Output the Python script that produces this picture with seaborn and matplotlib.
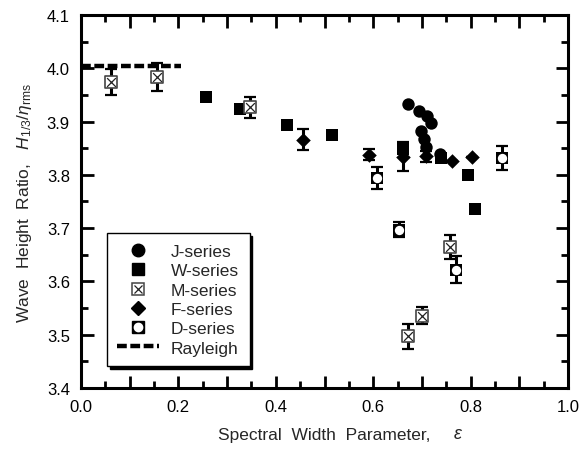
import numpy as np
import pandas as pd
import matplotlib
matplotlib.use("Agg")
import matplotlib.pyplot as plt
import seaborn as sns
from matplotlib.ticker import MultipleLocator, FuncFormatter
from matplotlib.lines import Line2D

# ---------------- data ----------------
j_eps = [0.671, 0.694, 0.711, 0.718, 0.698, 0.704, 0.708, 0.737]
j_ratio = [3.933, 3.919, 3.911, 3.897, 3.883, 3.867, 3.853, 3.839]

w_eps = [0.257, 0.326, 0.424, 0.515, 0.662, 0.739, 0.794, 0.809]
w_ratio = [3.947, 3.924, 3.894, 3.874, 3.849, 3.832, 3.800, 3.735]

m_eps = [0.061, 0.157, 0.346, 0.671, 0.701, 0.758]
m_ratio = [3.974, 3.984, 3.927, 3.497, 3.536, 3.665]
m_err = [0.025, 0.026, 0.020, 0.023, 0.016, 0.023]

f_eps = [0.455, 0.591, 0.662, 0.708, 0.761, 0.802]
f_ratio = [3.866, 3.838, 3.834, 3.835, 3.826, 3.833]
f_err = [0.020, 0.010, 0.027, 0.010, 0.000, 0.000]

d_eps = [0.607, 0.654, 0.770, 0.864]
d_ratio = [3.794, 3.697, 3.622, 3.832]
d_err = [0.020, 0.014, 0.025, 0.022]

rayleigh_eps = [0.0, 0.205]
rayleigh_ratio = [4.004, 4.004]

xticks_major = [0.0, 0.2, 0.4, 0.6, 0.8, 1.0]
yticks_major = [3.4, 3.5, 3.6, 3.7, 3.8, 3.9, 4.0, 4.1]

# ---------------- style ----------------
sns.set_theme(style="ticks")
plt.rcParams['font.family'] = ['Liberation Sans', 'DejaVu Sans']
plt.rcParams['mathtext.fontset'] = 'custom'
plt.rcParams['mathtext.it'] = 'Liberation Sans:italic'
plt.rcParams['mathtext.rm'] = 'Liberation Sans'

fig = plt.figure(figsize=(5.81, 4.52), dpi=100)
ax = fig.add_axes([81/581, 1-389/452, (568-81)/581, (389-16)/452])

def df(x, y):
    return pd.DataFrame({"x": x, "y": y})

eb_kw = dict(fmt='none', ecolor='black', elinewidth=2.2, capsize=4, capthick=1.6, zorder=2)
ax.errorbar(m_eps, m_ratio, yerr=m_err, **eb_kw)
ax.errorbar(f_eps, f_ratio, yerr=f_err, **eb_kw)
ax.errorbar(d_eps, d_ratio, yerr=d_err, **eb_kw)

# Rayleigh line
sns.lineplot(data=df(rayleigh_eps, rayleigh_ratio), x="x", y="y", ax=ax,
             color='black', linewidth=3.2, dashes=False, zorder=3)
ax.lines[-1].set_dashes([2.2, 0.8])

# W-series
sns.scatterplot(data=df(w_eps, w_ratio), x="x", y="y", ax=ax, marker='s',
                s=80, color='black', edgecolor='black', linewidth=0, zorder=4)
# F-series
sns.scatterplot(data=df(f_eps, f_ratio), x="x", y="y", ax=ax, marker='D',
                s=55, color='black', edgecolor='black', linewidth=0, zorder=5)
# J-series
sns.scatterplot(data=df(j_eps, j_ratio), x="x", y="y", ax=ax, marker='o',
                s=80, color='black', edgecolor='black', linewidth=0, zorder=6)
# M-series
sns.scatterplot(data=df(m_eps, m_ratio), x="x", y="y", ax=ax, marker='s',
                s=70, color='white', edgecolor='#444444', linewidth=1.2, zorder=7)
sns.scatterplot(data=df(m_eps, m_ratio), x="x", y="y", ax=ax, marker='x',
                s=40, color='#222222', linewidth=0.9, zorder=8)
# D-series
sns.scatterplot(data=df(d_eps, d_ratio), x="x", y="y", ax=ax, marker='s',
                s=85, color='black', edgecolor='black', linewidth=0, zorder=7)
sns.scatterplot(data=df(d_eps, d_ratio), x="x", y="y", ax=ax, marker='o',
                s=45, color='white', edgecolor='white', linewidth=0, zorder=8)

ax.set_xlim(0, 1.0)
ax.set_ylim(3.4, 4.1)
ax.set_xticks(xticks_major)
ax.xaxis.set_major_locator(MultipleLocator(0.1))
ax.xaxis.set_minor_locator(MultipleLocator(0.05))
def xfmt(v, pos):
    k = int(round(v * 10))
    return f"{v:.1f}" if k % 2 == 0 else ""
ax.xaxis.set_major_formatter(FuncFormatter(xfmt))
ax.set_yticks(yticks_major)
ax.yaxis.set_minor_locator(MultipleLocator(0.05))
ax.yaxis.set_major_formatter(FuncFormatter(lambda v, p: f"{v:.1f}"))

ax.tick_params(which='both', direction='in', top=True, right=True, width=2.0,
               labelsize=12, colors='black')
ax.tick_params(which='major', length=9, pad=8)
ax.tick_params(which='minor', length=5)
for sp in ax.spines.values():
    sp.set_linewidth(2.2)
    sp.set_color('black')

ax.set_xlabel("Spectral  Width  Parameter,", fontsize=12.5, labelpad=9)
ax.annotate(r"$\varepsilon$", xy=(1, 0), xycoords=ax.xaxis.label,
            xytext=(16, 0), textcoords='offset points', ha='left', va='bottom',
            fontsize=13)
ax.set_ylabel(r"Wave  Height  Ratio,   $H_{1/3}/\eta_{\mathrm{rms}}$", fontsize=12.5,
              labelpad=9)

handles = [
    Line2D([], [], linestyle='none', marker='o', markersize=9, color='black'),
    Line2D([], [], linestyle='none', marker='s', markersize=8.5, color='black'),
    (Line2D([], [], linestyle='none', marker='s', markersize=8, markerfacecolor='white',
            markeredgecolor='#444444', markeredgewidth=1.1),
     Line2D([], [], linestyle='none', marker='x', markersize=6, color='#222222',
            markeredgewidth=0.9)),
    Line2D([], [], linestyle='none', marker='D', markersize=7.5, color='black'),
    (Line2D([], [], linestyle='none', marker='s', markersize=8.5, color='black'),
     Line2D([], [], linestyle='none', marker='o', markersize=6, color='white')),
    Line2D([], [], color='black', linewidth=3.2, dashes=[2.2, 0.8]),
]
labels = ["J-series", "W-series", "M-series", "F-series", "D-series", "Rayleigh"]
leg = ax.legend(handles, labels, loc='lower left', bbox_to_anchor=(0.053, 0.059),
                frameon=True, fancybox=False, shadow={'color': 'black', 'alpha': 1},
                fontsize=12.5, handlelength=2.4, labelspacing=0.24, borderpad=0.6,
                handletextpad=0.7, borderaxespad=0)
leg.get_frame().set_edgecolor('black')
leg.get_frame().set_linewidth(1.0)
leg.set_zorder(20)

fig.savefig("out.png", dpi=100)
